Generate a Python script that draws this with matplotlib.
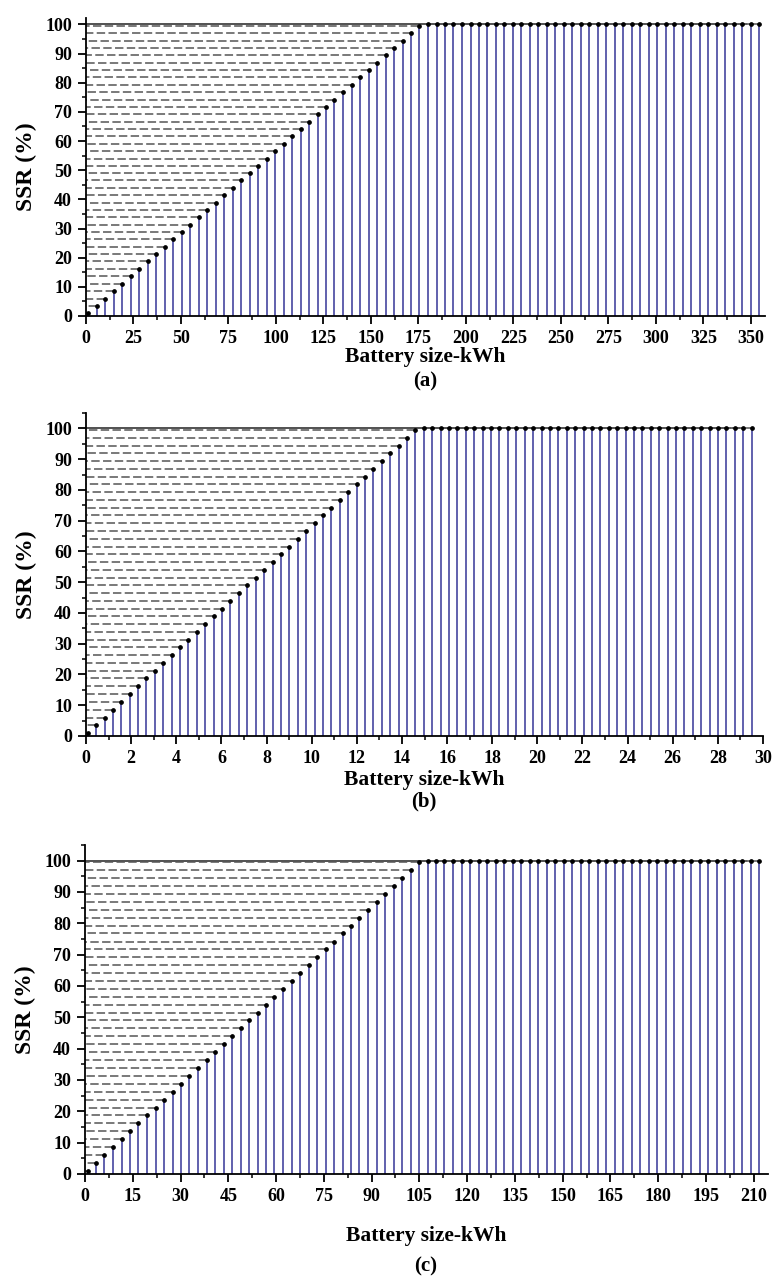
import numpy as np
import matplotlib
matplotlib.use("Agg")
import matplotlib.pyplot as plt
from matplotlib.ticker import MultipleLocator

plt.rcParams['font.family'] = ['Liberation Serif', 'DejaVu Serif']
plt.rcParams['font.weight'] = 'bold'

# SSR (%) (same curve shape in all three panels)
ssr = [1.0, 3.5, 6.0, 8.6, 11.1, 13.6, 16.2, 18.7, 21.2, 23.7,
       26.3, 28.8, 31.3, 33.8, 36.4, 38.9, 41.4, 43.9, 46.5, 49.0,
       51.5, 54.0, 56.6, 59.1, 61.6, 64.1, 66.7, 69.2, 71.7, 74.2,
       76.8, 79.3, 81.8, 84.3, 86.9, 89.4, 91.9, 94.4, 97.0, 99.5,
       100, 100, 100, 100, 100, 100, 100, 100, 100, 100,
       100, 100, 100, 100, 100, 100, 100, 100, 100, 100,
       100, 100, 100, 100, 100, 100, 100, 100, 100, 100,
       100, 100, 100, 100, 100, 100, 100, 100, 100, 100]

# battery sizes (kWh)
batt_a = [1.2, 5.7, 10.1, 14.6, 19.1, 23.6, 28.0, 32.5, 37.0, 41.4,
          45.9, 50.4, 54.8, 59.3, 63.8, 68.3, 72.7, 77.2, 81.7, 86.1,
          90.6, 95.1, 99.5, 104.0, 108.5, 113.0, 117.4, 121.9, 126.4, 130.8,
          135.3, 139.8, 144.2, 148.7, 153.2, 157.7, 162.1, 166.6, 171.1, 175.5,
          180.0, 184.5, 188.9, 193.4, 197.9, 202.4, 206.8, 211.3, 215.8, 220.2,
          224.7, 229.2, 233.6, 238.1, 242.6, 247.1, 251.5, 256.0, 260.5, 264.9,
          269.4, 273.9, 278.3, 282.8, 287.3, 291.8, 296.2, 300.7, 305.2, 309.6,
          314.1, 318.6, 323.0, 327.5, 332.0, 336.5, 340.9, 345.4, 349.9, 354.3]

batt_b = [0.07, 0.44, 0.82, 1.19, 1.56, 1.93, 2.31, 2.68, 3.05, 3.42,
          3.80, 4.17, 4.54, 4.91, 5.29, 5.66, 6.03, 6.40, 6.78, 7.15,
          7.52, 7.89, 8.27, 8.64, 9.01, 9.38, 9.76, 10.13, 10.50, 10.87,
          11.25, 11.62, 11.99, 12.36, 12.74, 13.11, 13.48, 13.85, 14.23, 14.60,
          14.97, 15.34, 15.72, 16.09, 16.46, 16.83, 17.21, 17.58, 17.95, 18.32,
          18.70, 19.07, 19.44, 19.81, 20.19, 20.56, 20.93, 21.30, 21.68, 22.05,
          22.42, 22.79, 23.17, 23.54, 23.91, 24.28, 24.66, 25.03, 25.40, 25.77,
          26.15, 26.52, 26.89, 27.26, 27.64, 28.01, 28.38, 28.75, 29.13, 29.50]

batt_c = [0.8, 3.5, 6.1, 8.8, 11.5, 14.2, 16.8, 19.5, 22.2, 24.8,
          27.5, 30.2, 32.8, 35.5, 38.2, 40.9, 43.5, 46.2, 48.9, 51.5,
          54.2, 56.9, 59.5, 62.2, 64.9, 67.6, 70.2, 72.9, 75.6, 78.2,
          80.9, 83.6, 86.2, 88.9, 91.6, 94.3, 96.9, 99.6, 102.3, 104.9,
          107.6, 110.3, 112.9, 115.6, 118.3, 121.0, 123.6, 126.3, 129.0, 131.6,
          134.3, 137.0, 139.6, 142.3, 145.0, 147.7, 150.3, 153.0, 155.7, 158.3,
          161.0, 163.7, 166.3, 169.0, 171.7, 174.4, 177.0, 179.7, 182.4, 185.0,
          187.7, 190.4, 193.0, 195.7, 198.4, 201.1, 203.7, 206.4, 209.1, 211.7]

yticks = [0, 10, 20, 30, 40, 50, 60, 70, 80, 90, 100]

W, H = 773, 1279
fig = plt.figure(figsize=(W / 100, H / 100), dpi=100)


def px_axes(l, r, t, b):
    return fig.add_axes([l / W, 1 - b / H, (r - l) / W, (b - t) / H])


def panel(ax, x, y, xmax, ymax, xmaj):
    ax.vlines(x, 0, y, color='#4545a0', lw=1.2, zorder=2)
    for xi, yi in zip(x, y):
        ax.plot([xi, 0], [yi, yi], color='#555555', lw=1.1, dashes=(5.5, 2.2), zorder=1)
    ax.plot(x, y, 'o', color='black', ms=2.4, zorder=3, clip_on=False)
    ax.set_xlim(0, xmax)
    ax.set_ylim(0, ymax)
    ax.xaxis.set_major_locator(MultipleLocator(xmaj))
    ax.xaxis.set_minor_locator(MultipleLocator(xmaj / 2))
    ax.set_yticks(yticks)
    ax.yaxis.set_minor_locator(MultipleLocator(5))
    for s in ['top', 'right']:
        ax.spines[s].set_visible(False)
    for s in ['left', 'bottom']:
        ax.spines[s].set_linewidth(1.3)
    ax.tick_params(which='major', direction='out', length=6, width=1.3, labelsize=13, pad=4)
    ax.tick_params(which='minor', direction='out', length=3, width=1.1)
    ax.set_ylabel('SSR (%)', fontsize=17, fontweight='bold', labelpad=6)
    for lab in ax.get_xticklabels() + ax.get_yticklabels():
        lab.set_fontweight('bold')


ax_a = px_axes(86, 765, 18, 316)
panel(ax_a, batt_a, ssr, 357.4, 102.2, 25)
ax_b = px_axes(86, 763, 413, 736)
panel(ax_b, batt_b, ssr, 30, 105, 2)
ax_c = px_axes(85, 768, 845, 1174)
panel(ax_c, batt_c, ssr, 214.5, 105, 15)

labels = [('(a)', 425, 357, 381), ('(b)', 424, 780, 801), ('(c)', 426, 1236, 1266)]
for tag, xc, yl, yt in labels:
    fig.text(xc / W, 1 - yl / H, 'Battery size-kWh', ha='center', va='center',
             fontsize=15.5, fontweight='bold')
    fig.text(xc / W, 1 - yt / H, tag, ha='center', va='center',
             fontsize=15, fontweight='bold')

fig.savefig('out.png', dpi=100)
